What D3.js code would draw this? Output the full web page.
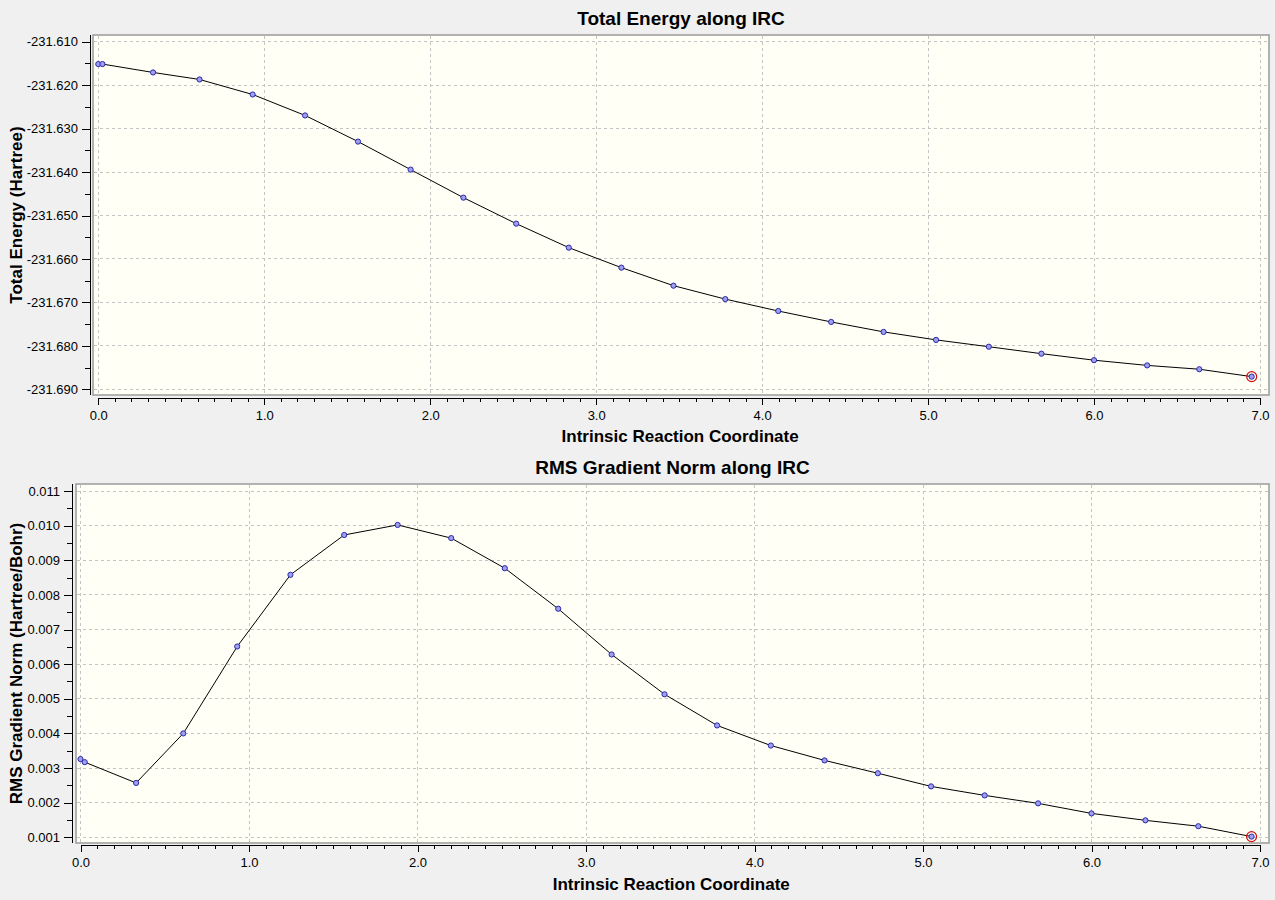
<!DOCTYPE html>
<html>
<head>
<meta charset="utf-8">
<script src="https://cdn.jsdelivr.net/npm/d3@7/dist/d3.min.js"></script>
<style>
  html, body { margin: 0; padding: 0; background: #f0f0f0; }
  svg { display: block; }
  text { font-family: "Liberation Sans", Arial, sans-serif; }
</style>
</head>
<body>
<svg id="chart" width="1275" height="900"></svg>
<script>
// ---- data ----
const ircCoord = [0.000, 0.025, 0.330, 0.610, 0.930, 1.246, 1.565, 1.882, 2.200, 2.518, 2.835, 3.152,
                  3.466, 3.778, 4.097, 4.416, 4.732, 5.048, 5.366, 5.683, 6.000, 6.320, 6.634, 6.950];
const totalEnergy = [-231.61515, -231.61515, -231.61708, -231.61869, -231.62215, -231.62697, -231.63299,
                     -231.63944, -231.64589, -231.65187, -231.65740, -231.66200, -231.66615, -231.66924,
                     -231.67198, -231.67450, -231.67679, -231.67863, -231.68020, -231.68180, -231.68330,
                     -231.68450, -231.68538, -231.68708];
const rmsGradient = [0.00326, 0.00317, 0.00257, 0.00400, 0.00651, 0.00858, 0.00973, 0.01002, 0.00964,
                     0.00877, 0.00760, 0.00628, 0.00513, 0.00423, 0.00365, 0.00322, 0.00285, 0.00247,
                     0.00221, 0.00198, 0.00169, 0.00149, 0.00132, 0.00102];
const xTickValues = [0, 1, 2, 3, 4, 5, 6, 7];
const xTickLabels = ["0.0", "1.0", "2.0", "3.0", "4.0", "5.0", "6.0", "7.0"];
const energyTickValues = [-231.610, -231.620, -231.630, -231.640, -231.650, -231.660, -231.670, -231.680, -231.690];
const energyTickLabels = ["-231.610", "-231.620", "-231.630", "-231.640", "-231.650", "-231.660", "-231.670", "-231.680", "-231.690"];
const gradTickValues = [0.011, 0.010, 0.009, 0.008, 0.007, 0.006, 0.005, 0.004, 0.003, 0.002, 0.001];
const gradTickLabels = ["0.011", "0.010", "0.009", "0.008", "0.007", "0.006", "0.005", "0.004", "0.003", "0.002", "0.001"];

const panels = [
  {
    title: "Total Energy along IRC",
    yLabel: "Total Energy (Hartree)",
    xLabel: "Intrinsic Reaction Coordinate",
    values: totalEnergy,
    yTicks: energyTickValues, yLabels: energyTickLabels,
    frame: {left: 93, right: 1269, top: 35, bottom: 395},
    xRange: [98.3, 1260], yRange: [389.3, 41.7],
    yAxisX: 90, xAxisY: 398,
    titleY: 25, xLabelY: 442
  },
  {
    title: "RMS Gradient Norm along IRC",
    yLabel: "RMS Gradient Norm (Hartree/Bohr)",
    xLabel: "Intrinsic Reaction Coordinate",
    values: rmsGradient,
    yTicks: gradTickValues, yLabels: gradTickLabels,
    frame: {left: 76, right: 1269, top: 484, bottom: 843},
    xRange: [80.5, 1260], yRange: [837.3, 491],
    yAxisX: 72, xAxisY: 845,
    titleY: 474, xLabelY: 890
  }
];

const svg = d3.select("#chart");

panels.forEach(p => {
  const g = svg.append("g");
  const x = d3.scaleLinear().domain([0, 7]).range(p.xRange);
  const yDom = d3.extent(p.yTicks);
  const y = d3.scaleLinear().domain(yDom).range(p.yRange);
  const f = p.frame;

  // plot background
  g.append("rect")
    .attr("x", f.left).attr("y", f.top)
    .attr("width", f.right - f.left).attr("height", f.bottom - f.top)
    .attr("fill", "#fffff6");

  // gridlines
  g.append("g").selectAll("line").data(xTickValues).join("line")
    .attr("x1", d => x(d)).attr("x2", d => x(d))
    .attr("y1", f.top + 1).attr("y2", f.bottom - 1)
    .attr("stroke", "#c4c4c4").attr("stroke-width", 1)
    .attr("stroke-dasharray", "3,3")
    .attr("shape-rendering", "crispEdges");
  g.append("g").selectAll("line").data(p.yTicks).join("line")
    .attr("x1", f.left + 1).attr("x2", f.right - 1)
    .attr("y1", d => y(d)).attr("y2", d => y(d))
    .attr("stroke", "#c4c4c4").attr("stroke-width", 1)
    .attr("stroke-dasharray", "3,3")
    .attr("shape-rendering", "crispEdges");

  // frame
  g.append("rect")
    .attr("x", f.left).attr("y", f.top)
    .attr("width", f.right - f.left).attr("height", f.bottom - f.top)
    .attr("fill", "none").attr("stroke", "#9a9a9a").attr("stroke-width", 1.5);

  // y axis
  const yMinor = p.yTicks.slice(1).map((d, i) => (d + p.yTicks[i]) / 2);
  const yAxis = g.append("g").attr("transform", `translate(${p.yAxisX},0)`);
  yAxis.call(d3.axisLeft(y).tickValues(p.yTicks).tickSize(8).tickPadding(4)
      .tickFormat((d, i) => p.yLabels[i]));
  yAxis.select(".domain").remove();
  yAxis.append("g").call(d3.axisLeft(y).tickValues(yMinor).tickSize(5).tickFormat(""))
    .select(".domain").remove();
  yAxis.append("line").attr("x1", 0).attr("x2", 0)
    .attr("y1", f.top).attr("y2", f.bottom).attr("stroke", "#000");
  yAxis.selectAll("text").attr("font-size", 13).attr("fill", "#000")
    .style("font-family", "'Liberation Sans', Arial, sans-serif");
  yAxis.selectAll("line").attr("stroke", "#000").attr("shape-rendering", "crispEdges");

  // x axis
  const xMinor = d3.range(0, 71).map(i => i / 10).filter(v => Math.abs(v - Math.round(v)) > 1e-9);
  const xAxis = g.append("g").attr("transform", `translate(0,${p.xAxisY})`);
  xAxis.call(d3.axisBottom(x).tickValues(xTickValues).tickSize(7).tickPadding(6)
      .tickFormat((d, i) => xTickLabels[i]));
  xAxis.select(".domain").remove();
  xAxis.append("g").call(d3.axisBottom(x).tickValues(xMinor).tickSize(4).tickFormat(""))
    .select(".domain").remove();
  xAxis.append("line").attr("x1", x(0)).attr("x2", x(7)).attr("y1", 0).attr("y2", 0)
    .attr("stroke", "#000");
  xAxis.selectAll("text").attr("font-size", 13).attr("fill", "#000")
    .style("font-family", "'Liberation Sans', Arial, sans-serif");
  xAxis.selectAll("line").attr("stroke", "#000").attr("shape-rendering", "crispEdges");

  // line
  const pts = ircCoord.map((c, i) => [c, p.values[i]]);
  g.append("path").datum(pts)
    .attr("d", d3.line().x(d => x(d[0])).y(d => y(d[1])))
    .attr("fill", "none").attr("stroke", "#000").attr("stroke-width", 1);

  // markers
  g.append("g").selectAll("circle").data(pts).join("circle")
    .attr("cx", d => x(d[0])).attr("cy", d => y(d[1])).attr("r", 2.6)
    .attr("fill", "#9f9ff0").attr("stroke", "#2a2aa8").attr("stroke-width", 1);

  // highlighted current point
  const last = pts[pts.length - 1];
  g.append("circle").attr("cx", x(last[0])).attr("cy", y(last[1])).attr("r", 5)
    .attr("fill", "none").attr("stroke", "#d01010").attr("stroke-width", 1.2);

  // titles
  g.append("text").attr("x", (f.left + f.right) / 2).attr("y", p.titleY)
    .attr("text-anchor", "middle").attr("font-size", 19).attr("font-weight", "bold")
    .text(p.title);
  g.append("text").attr("x", (p.xRange[0] + p.xRange[1]) / 2 + 1).attr("y", p.xLabelY)
    .attr("text-anchor", "middle").attr("font-size", 17).attr("font-weight", "bold")
    .text(p.xLabel);
  g.append("text")
    .attr("transform", `translate(22,${(f.top + f.bottom) / 2}) rotate(-90)`)
    .attr("text-anchor", "middle").attr("font-size", 17).attr("font-weight", "bold")
    .text(p.yLabel);
});
</script>
</body>
</html>
